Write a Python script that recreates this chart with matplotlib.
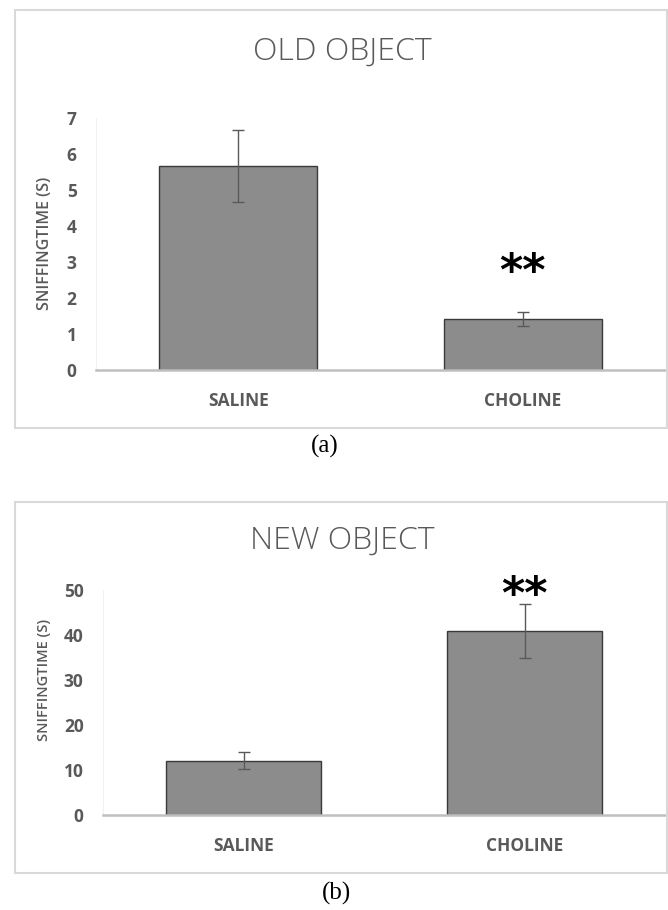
import matplotlib
matplotlib.use("Agg")
import matplotlib.pyplot as plt
from matplotlib.patches import Rectangle

# sniffing times (s), mean and SEM per group
groups = ["SALINE", "CHOLINE"]
old_mean = [5.67, 1.42]
old_sem = [1.0, 0.2]
new_mean = [12.1, 40.9]
new_sem = [1.9, 6.0]

old_ticks = [0, 1, 2, 3, 4, 5, 6, 7]
new_ticks = [0, 10, 20, 30, 40, 50]

TXT = "#595959"
BAR = "#8c8c8c"
W, H = 668, 910

fig = plt.figure(figsize=(W / 100, H / 100), dpi=100)


def px_axes(left, right, top, bottom):
    return fig.add_axes([left / W, 1 - bottom / H, (right - left) / W, (bottom - top) / H])


def frame(x0, y0, x1, y1):
    fig.patches.append(Rectangle((x0 / W, 1 - y1 / H), (x1 - x0) / W, (y1 - y0) / H,
                                 transform=fig.transFigure, fill=False,
                                 edgecolor="#d9d9d9", linewidth=1.5))


def panel(ax, means, sems, ticks, title_y, star_y, ylab, title):
    x = range(len(groups))
    ax.bar(x, means, width=0.555, color=BAR, edgecolor="#3a3a3a", linewidth=1.0, zorder=2)
    ax.errorbar(x, means, yerr=sems, fmt="none", ecolor=TXT, elinewidth=1.0,
                capsize=4, capthick=1.0, zorder=3)
    ax.set_xlim(-0.5, 1.5)
    ax.set_ylim(ticks[0], ticks[-1])
    ax.set_yticks(ticks)
    ax.set_xticks(list(x))
    ax.set_xticklabels(groups)
    for s in ["top", "right"]:
        ax.spines[s].set_visible(False)
    ax.spines["left"].set_color("#f0f0f0")
    ax.spines["bottom"].set_color("#bfbfbf")
    ax.spines["bottom"].set_linewidth(1.8)
    ax.tick_params(axis="both", length=0, colors=TXT)
    ax.tick_params(axis="y", pad=14, labelsize=12.5)
    ax.tick_params(axis="x", pad=16, labelsize=12.5)
    for lab in ax.get_xticklabels() + ax.get_yticklabels():
        lab.set_fontweight("bold")
        lab.set_family("Open Sans")
    ax.text(1, star_y, "**", ha="center", va="center", fontsize=32,
            fontweight="bold", color="black", clip_on=False)
    fig.text(ylab[0] / W, 1 - ylab[1] / H, "SNIFFINGTIME (S)", rotation=90,
             ha="center", va="center", fontsize=ylab[2], color=TXT,
             family="Open Sans", fontweight="semibold")
    fig.text(342 / W, 1 - title_y / H, title, ha="center", va="center",
             fontsize=23, color=TXT, family="Open Sans", fontweight="light")


frame(15, 10, 667, 428)
ax1 = px_axes(96, 665, 118, 370)
panel(ax1, old_mean, old_sem, old_ticks, 52, 2.7, (45, 243, 11.5), "OLD OBJECT")

frame(15, 502, 667, 873)
ax2 = px_axes(103, 665, 590, 815)
panel(ax2, new_mean, new_sem, new_ticks, 541, 48.8, (44, 680, 10.5), "NEW OBJECT")

fig.text(325 / W, 1 - 446 / H, "(a)", ha="center", va="center", fontsize=18,
         family="Liberation Serif")
fig.text(337 / W, 1 - 893 / H, "(b)", ha="center", va="center", fontsize=18,
         family="Liberation Serif")

fig.savefig("out.png", dpi=100)
